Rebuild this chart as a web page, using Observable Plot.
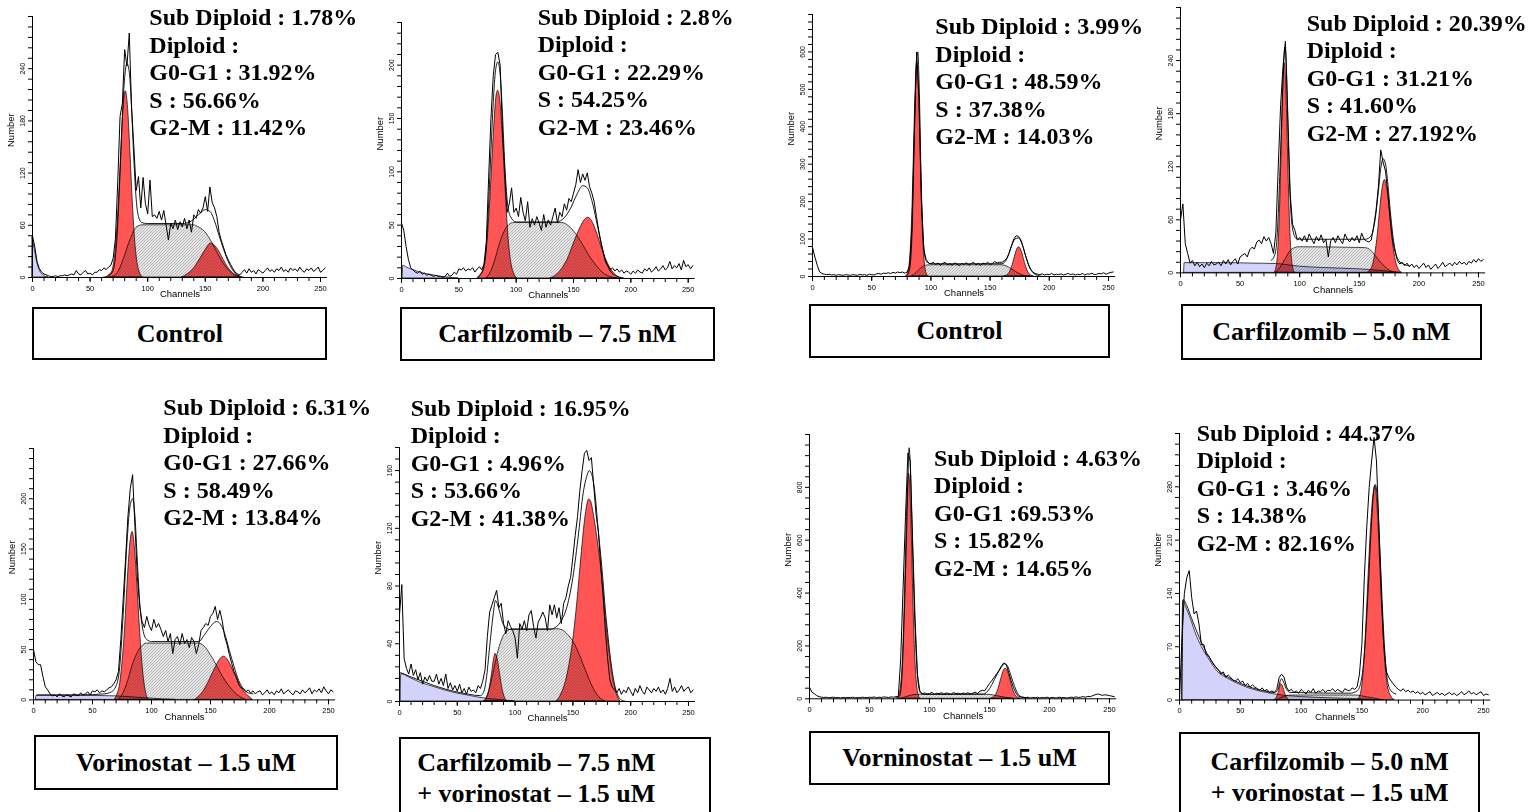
<!DOCTYPE html>
<html>
<head>
<meta charset="utf-8">
<script src="https://cdn.jsdelivr.net/npm/d3@7"></script>
<script src="https://cdn.jsdelivr.net/npm/@observablehq/plot@0.6"></script>
<style>
html,body{margin:0;padding:0;background:#fff;}
body{position:relative;width:1533px;height:812px;overflow:hidden;}
.panel{position:absolute;}
.panel svg{display:block;overflow:visible;}
.stats{position:absolute;font-family:"Liberation Serif","Times New Roman",serif;font-weight:bold;font-size:24px;line-height:27.5px;white-space:nowrap;color:#000;z-index:2;}
.box{position:absolute;box-sizing:border-box;border:2.5px solid #000;background:#fff;font-family:"Liberation Serif","Times New Roman",serif;font-weight:bold;font-size:26px;color:#000;white-space:nowrap;display:flex;align-items:center;justify-content:center;z-index:2;}
.box.multi{display:block;line-height:31px;}
</style>
</head>
<body>
<svg width="0" height="0" style="position:absolute;left:0;top:0">
<defs>
<pattern id="shatch" patternUnits="userSpaceOnUse" width="3" height="3">
<rect width="3" height="3" fill="#e4e4e4"/>
<path d="M-1,1 l2,-2 M0,3 l3,-3 M2,4 l2,-2" stroke="#9c9c9c" stroke-width="0.6"/>
</pattern>
</defs>
</svg>
<script>
// ---------- DATA (histogram counts every 2 channels: 0,2,...,254) ----------
// Panel 1: Control (top-left)
const p1Hist = [
 48,35,18,10,6,4,3,2,1,1,2,1,2,2,3,2,
 3,4,3,8,4,3,6,8,4,5,3,6,6,9,8,11,
 9,12,14,22,45,110,185,200,262,243,281,195,150,100,116,80,
 115,85,73,112,70,72,68,76,66,77,60,43,62,56,66,55,
 64,58,68,56,66,52,72,68,78,74,80,93,76,104,86,80,
 70,52,42,34,26,20,15,10,6,4,3,6,9,5,10,6,
 8,4,9,7,5,8,11,7,9,6,10,8,12,7,9,6,
 11,8,10,7,12,8,6,10,8,11,7,9,12,6,8,11];
const p1Fit = [[60,0],[66,2],[70,8],[73,40],[76,120],[78,185],[80,230],[82,246],[84,236],[86,195],[88,135],[90,90],[92,70],[95,63],[100,62],[130,62],[138,65],[144,72],[150,78],[154,76],[158,65],[162,48],[166,32],[170,18],[174,8],[178,3],[184,0]];
const p1Debris = [[0,46],[2,32],[4,18],[6,9],[8,4],[10,2],[12,0.5],[14,0]];
const p1S = [[68,0],[74,5],[79,20],[85,43],[91,58],[96,60],[140,60],[144,58],[150,52],[156,40],[160,30],[164,20],[168,12],[172,6],[176,2],[180,0]];
const p1G1 = [[65,0],[66,2],[69,6],[71,18],[73,44],[75,88],[77,144],[79,194],[81,214],[83,194],[85,144],[87,88],[89,44],[91,18],[93,6],[96,0]];
const p1G2 = [[130,0],[135,4],[140,10],[145,20],[150,31],[155,39],[158,37],[162,30],[166,20],[170,11],[174,5],[178,2],[181,0]];
const p1YTicks = [0,60,120,180,240];
const p1Stats = ["Sub Diploid : 1.78%","Diploid :","G0-G1 : 31.92%","S : 56.66%","G2-M : 11.42%"];
const p1Label = ["Control"];

// Panel 2: Carfilzomib 7.5 nM
const p2Hist = [
 52,45,30,18,10,8,6,5,7,4,5,3,4,3,2,3,
 2,2,1,2,5,2,3,6,4,9,8,10,7,9,8,10,
 6,9,11,8,14,35,95,150,190,210,212,200,140,100,62,70,
 85,62,66,58,76,62,54,72,48,56,50,58,52,45,60,48,
 55,50,58,66,52,62,58,70,64,75,72,80,88,102,90,98,
 92,99,86,80,72,58,45,34,24,15,12,8,10,7,9,6,
 8,5,7,6,4,7,5,8,6,5,9,7,10,6,8,11,
 7,9,12,8,10,16,9,12,10,14,8,17,11,13,9,12];
const p2Fit = [[66,1],[70,5],[73,18],[76,70],[78,120],[80,165],[82,195],[84,203],[86,192],[88,155],[90,108],[92,75],[95,58],[100,53],[135,53],[142,57],[148,67],[153,79],[158,87],[162,85],[166,73],[170,54],[174,33],[178,17],[182,7],[188,2],[194,0]];
const p2Debris = [[1,0],[1.5,12],[5,10],[10,8],[15,6],[20,4.5],[25,3.5],[30,2.5],[35,1.5],[40,1],[45,0.3],[50,0]];
const p2S = [[74,0],[78,6],[82,18],[86,33],[90,44],[94,50],[98,52],[140,52],[146,49],[152,42],[158,32],[164,21],[170,12],[176,5],[182,1.5],[188,0]];
const p2G1 = [[67,0],[68,2],[71,7],[73,16],[75,35],[77,66],[79,105],[81,145],[83,172],[84.3,176],[86,168],[88,140],[90,100],[92,60],[94,30],[96,13],[98,5],[101,0]];
const p2G2 = [[130,0],[136,4],[140,9],[145,18],[150,32],[155,45],[160,55],[163,57],[166,54],[170,44],[174,31],[178,19],[182,10],[186,4],[190,1],[194,0]];
const p2YTicks = [0,50,100,150,200];
const p2Stats = ["Sub Diploid : 2.8%","Diploid :","G0-G1 : 22.29%","S : 54.25%","G2-M : 23.46%"];
const p2Label = ["Carfilzomib – 7.5 nM"];

// Panel 3: Control (top, right group)
const p3Hist = [
 78,52,30,12,8,6,5,6,4,5,3,5,4,3,5,4,
 3,5,4,3,6,4,5,3,6,5,4,7,8,6,9,8,
 10,8,11,9,12,10,12,9,12,28,130,390,600,470,200,72,
 45,36,34,38,32,36,30,35,38,31,34,30,36,33,29,35,
 32,37,30,34,38,31,35,30,36,33,38,32,35,40,36,38,
 38,42,48,62,82,100,109,107,98,78,55,34,20,12,8,6,
 5,7,4,6,5,8,4,6,5,7,4,6,8,5,7,4,
 6,5,8,4,7,6,9,5,6,8,7,10,6,9,11,12];
const p3Fit = [[80,4],[82,20],[84,110],[86,370],[88,585],[89,600],[90,520],[92,230],[94,80],[96,42],[100,34],[160,34],[164,46],[168,80],[171,100],[174,103],[177,86],[180,56],[183,28],[186,11],[190,3],[194,0]];
const p3Debris = [];
const p3S = [[84,0],[88,10],[92,22],[96,29],[100,30],[160,30],[164,27],[168,20],[172,12],[176,5],[180,1],[184,0]];
const p3G1 = [[79,0],[80.5,7],[81.5,20],[82.5,48],[83.5,103],[84.5,190],[85.5,307],[86.5,434],[87.5,532],[88.5,570],[89.5,532],[90.5,434],[91.5,307],[92.5,190],[93.5,103],[94.5,48],[95.5,20],[96.5,7],[98,0]];
const p3G2 = [[162,0],[164.5,3],[166.5,10],[168.5,25],[170.5,47],[172.5,69],[174.5,78],[176.5,69],[178.5,47],[180.5,25],[182.5,10],[184.5,3],[187,0]];
const p3YTicks = [0,100,200,300,400,500,600];
const p3Stats = ["Sub Diploid : 3.99%","Diploid :","G0-G1 : 48.59%","S : 37.38%","G2-M : 14.03%"];
const p3Label = ["Control"];

// Panel 4: Carfilzomib 5.0 nM
const p4Hist = [
 60,78,33,22,11,14,8,12,7,10,6,11,8,13,9,10,
 12,8,14,10,15,9,13,16,10,18,20,22,18,26,29,27,
 35,37,33,41,36,40,33,22,45,120,190,233,262,180,90,55,
 48,37,40,36,42,35,44,38,33,41,36,43,34,38,18,36,
 40,34,42,37,33,44,38,35,40,36,42,34,45,38,36,35,
 37,52,70,97,139,125,115,90,60,36,24,14,10,12,8,11,
 7,10,6,9,5,8,11,6,9,4,7,10,5,8,12,7,
 9,11,8,12,9,13,10,12,9,13,11,15,12,16,13,15];
const p4Fit = [[76,14],[79,20],[81,40],[83,100],[85,180],[86.5,235],[87.5,255],[88.5,245],[90,170],[92,85],[94,50],[97,39],[100,38],[155,38],[160,42],[163,58],[166,92],[168,118],[170,129],[172,123],[174,100],[176,70],[178,44],[180,26],[183,14],[187,10],[192,8]];
const p4Debris = [[3,0],[3.5,11],[20,11],[40,11],[60,10.5],[80,10],[100,7],[120,5.5],[150,4],[170,2],[180,0.5],[185,0]];
const p4S = [[80,0],[84,6],[88,15],[92,24],[96,28],[100,29],[155,28],[158,27],[162,22],[166,15],[170,9],[174,4],[178,1],[182,0]];
const p4G1 = [[79,0],[80,3],[81.5,16],[82.5,37],[83.5,72],[84.5,121],[85.5,175],[86.5,220],[87.5,237],[88.5,220],[89.5,175],[90.5,121],[91.5,72],[92.5,37],[93.5,16],[95,3],[96,0]];
const p4G2 = [[157,0],[159.5,3],[161.5,9],[163.5,22],[165.5,43],[167.5,71],[169.5,95],[171.5,105],[173.5,95],[175.5,71],[177.5,43],[179.5,22],[181.5,9],[183.5,3],[186,0]];
const p4YTicks = [0,60,120,180,240];
const p4Stats = ["Sub Diploid : 20.39%","Diploid :","G0-G1 : 31.21%","S : 41.60%","G2-M : 27.192%"];
const p4Label = ["Carfilzomib – 5.0 nM"];

// Panel 5: Vorinostat 1.5 uM (bottom-left)
const p5Hist = [
 50,38,35,35,23,13,10,6,4,5,3,6,4,3,5,4,
 3,6,5,4,7,5,6,8,5,9,8,10,7,9,8,10,
 12,13,16,20,28,60,100,140,182,210,224,172,123,93,78,72,
 83,74,69,80,72,76,70,63,69,58,66,46,60,63,55,66,
 56,60,52,62,58,46,55,69,72,76,74,83,86,93,80,89,
 78,63,55,45,36,28,23,15,12,11,8,10,7,9,6,8,
 9,5,7,10,6,8,5,9,7,11,6,8,10,7,5,9,
 8,6,10,7,9,12,6,10,8,11,7,13,9,6,10,8];
const p5Fit = [[3,5],[40,5],[60,6],[66,8],[70,14],[73,32],[76,85],[79,152],[82,194],[84,200],[86,182],[88,138],[90,97],[93,68],[96,60],[100,58],[140,58],[145,65],[150,73],[155,78],[158,76],[162,66],[166,49],[170,33],[174,19],[178,11],[182,7],[186,6]];
const p5Debris = [[2,0],[2.5,4],[40,4],[70,3.5],[90,2],[110,0.5],[120,0]];
const p5S = [[72,0],[76,6],[80,18],[84,34],[88,46],[92,53],[96,56],[140,56],[145,53],[150,45],[155,35],[160,24],[165,15],[170,8],[175,3],[180,0]];
const p5G1 = [[69,0],[71,5],[73,13],[75,32],[77,60],[79,100],[81,140],[83,164],[84,167],[86,150],[88,115],[90,75],[92,40],[94,17],[96,4],[98,0]];
const p5G2 = [[137,0],[141,4],[145,10],[149,19],[153,29],[157,38],[161,43],[164,41],[167,35],[170,27],[174,17],[178,9],[182,4],[186,0]];
const p5YTicks = [0,50,100,150,200];
const p5Stats = ["Sub Diploid : 6.31%","Diploid :","G0-G1 : 27.66%","S : 58.49%","G2-M : 13.84%"];
const p5Label = ["Vorinostat – 1.5 uM"];

// Panel 6: Carfilzomib 7.5 nM + vorinostat 1.5 uM
const p6Hist = [
 60,81,30,23,19,26,18,22,15,20,12,17,14,18,14,14,
 19,12,16,11,19,9,13,8,11,7,12,6,9,5,10,7,
 8,6,11,9,14,22,45,62,67,72,77,65,68,54,47,56,
 52,49,44,30,54,50,56,49,60,63,52,44,55,58,62,58,
 49,67,60,67,58,65,54,68,72,80,86,100,115,128,146,160,
 172,174,167,169,150,130,118,95,75,50,30,15,10,8,6,9,
 5,8,6,10,7,4,9,6,11,7,5,10,8,6,9,7,
 10,6,8,5,9,16,7,10,6,8,11,7,9,10,6,8];
const p6Fit = [[1,20],[10,17],[20,14],[30,11],[40,8.5],[50,6.5],[60,5],[70,4],[73,7],[75,15],[78,38],[81,60],[83,70],[86,64],[89,55],[92,51],[95,50],[130,50],[136,52],[140,56],[145,66],[150,86],[155,117],[159,145],[162,156],[164,160],[166,158],[169,145],[172,118],[174,102],[176,84],[178,64],[180,48],[182,33],[184,21],[186,12],[188,6],[192,1],[196,0]];
const p6Debris = [[1,0],[1.5,19],[10,16],[20,12.5],[30,10],[40,7.5],[50,5.5],[60,4],[70,2.5],[80,1.5],[90,0.8],[100,0]];
const p6S = [[74,0],[78,8],[82,22],[86,36],[90,45],[94,49],[98,50],[138,50],[142,49],[146,46],[150,42],[154,36],[158,28],[162,20],[166,12],[170,6],[174,2],[178,0]];
const p6G1 = [[73,0],[76,3],[78,9],[80,19],[82,30],[83,33],[85,29],[87,19],[89,9],[91,3],[93,0]];
const p6G2 = [[136,0],[140,5],[144,14],[148,30],[151,47],[154,70],[157,97],[160,122],[162,134],[164,140],[166,138],[168,130],[170,120],[172,108],[174,96],[176,80],[178,62],[180,46],[182,32],[184,20],[186,11],[188,5],[191,0]];
const p6YTicks = [0,40,80,120,160];
const p6Stats = ["Sub Diploid : 16.95%","Diploid :","G0-G1 : 4.96%","S : 53.66%","G2-M : 41.38%"];
const p6Label = ["Carfilzomib – 7.5 nM","+ vorinostat – 1.5 uM"];

// Panel 7: Vorinostat 1.5 uM (bottom, right group)
const p7Hist = [
 44,25,19,12,8,6,5,6,4,5,6,4,5,3,5,4,
 5,4,6,3,5,4,6,5,4,6,5,7,4,6,5,7,
 6,5,7,6,8,8,150,420,690,930,900,590,300,90,28,20,
 22,18,20,24,17,21,19,23,18,22,20,17,24,19,21,18,
 22,19,23,18,21,25,20,28,32,30,44,58,69,82,95,108,
 125,136,128,100,69,42,22,10,6,5,4,6,3,5,4,6,
 3,5,4,6,3,5,4,3,6,4,5,3,4,6,5,7,
 5,6,8,6,9,8,12,15,18,16,13,15,14,12,10,8];
const p7Fit = [[72,5],[75,10],[77,80],[79,320],[81,640],[82,820],[83,950],[84,880],[85,720],[87,400],[89,160],[91,45],[93,20],[96,17],[145,18],[150,38],[154,72],[158,106],[161,126],[163,133],[165,124],[168,86],[171,46],[174,17],[177,7],[182,4]];
const p7Debris = [];
const p7S = [[76,0],[80,5],[85,12],[90,15],[150,15],[155,11],[160,7],[165,3],[170,0]];
const p7G1 = [[74,0],[75,14],[76,37],[77,86],[78,173],[79,307],[80,480],[81,660],[82,800],[83,852],[84,800],[85,660],[86,480],[87,307],[88,173],[89,86],[90,37],[91,14],[92,0]];
const p7G2 = [[151,0],[153.5,5],[155.5,15],[157.5,37],[159.5,70],[161.5,101],[163.5,114],[165.5,101],[167.5,70],[169.5,37],[171.5,15],[173.5,5],[176,0]];
const p7YTicks = [0,200,400,600,800];
const p7Stats = ["Sub Diploid : 4.63%","Diploid :","G0-G1 :69.53%","S : 15.82%","G2-M : 14.65%"];
const p7Label = ["Vorninostat – 1.5 uM"];

// Panel 8: Carfilzomib 5.0 nM + vorinostat 1.5 uM
const p8Hist = [
 0,80,140,161,170,135,113,117,100,73,73,60,58,52,47,43,
 40,34,37,30,33,30,26,25,28,23,25,19,22,17,20,17,
 15,13,16,12,14,10,12,10,14,30,34,30,17,12,14,10,
 12,9,14,11,8,13,10,15,9,12,11,14,10,13,12,15,
 11,14,12,10,15,13,12,16,14,17,34,73,161,227,279,314,
 345,314,227,139,73,38,30,25,21,17,14,12,15,11,13,10,
 12,9,11,8,10,7,9,11,6,8,10,7,9,6,8,10,
 7,9,6,8,11,7,9,12,8,10,7,9,11,6,8,7];
const p8Fit = [[2,0],[3,132],[6,124],[10,107],[15,87],[20,69],[25,55],[31,41],[40,30],[50,22],[60,16],[70,12],[78,10],[81,14],[83,26],[84,28],[86,22],[88,14],[91,10],[140,9],[146,12],[149,22],[152,60],[155,140],[158,235],[160,278],[161,283],[163,258],[165,190],[167,118],[169,60],[171,26],[174,12],[178,8]];
const p8Debris = [[2,0],[3,130],[6,120],[9,108],[14,85],[20,65],[25,52],[31,38],[40,28],[50,20],[58,15],[70,10],[80,7],[100,4],[130,2],[150,1],[165,0]];
const p8S = [[80,0],[84,3],[88,5],[92,6],[145,6],[150,5],[155,3.5],[160,2],[165,0.5],[168,0]];
const p8G1 = [[78,0],[80,3],[82,12],[83.5,21],[85,18],[87,8],[89,2],[90,0]];
const p8G2 = [[147,0],[150,15],[152,50],[154,110],[156,180],[158,240],[160,275],[161,281],[163,250],[165,180],[167,110],[169,55],[171,22],[174,5],[177,0]];
const p8YTicks = [0,70,140,210,280];
const p8Stats = ["Sub Diploid : 44.37%","Diploid :","G0-G1 : 3.46%","S : 14.38%","G2-M : 82.16%"];
const p8Label = ["Carfilzomib – 5.0 nM","+ vorinostat – 1.5 uM"];

const xTicks = [0,50,100,150,200,250];

// ---------- PANELS ----------
const panels = [
  {hist:p1Hist, fit:p1Fit, debris:p1Debris, s:p1S, g1:p1G1, g2:p1G2, yMax:300,  yTicks:p1YTicks, yMinor:12, stats:p1Stats, label:p1Label},
  {hist:p2Hist, fit:p2Fit, debris:p2Debris, s:p2S, g1:p2G1, g2:p2G2, yMax:240,  yTicks:p2YTicks, yMinor:10, stats:p2Stats, label:p2Label},
  {hist:p3Hist, fit:p3Fit, debris:p3Debris, s:p3S, g1:p3G1, g2:p3G2, yMax:700,  yTicks:p3YTicks, yMinor:20, stats:p3Stats, label:p3Label},
  {hist:p4Hist, fit:p4Fit, debris:p4Debris, s:p4S, g1:p4G1, g2:p4G2, yMax:300,  yTicks:p4YTicks, yMinor:12, stats:p4Stats, label:p4Label},
  {hist:p5Hist, fit:p5Fit, debris:p5Debris, s:p5S, g1:p5G1, g2:p5G2, yMax:250,  yTicks:p5YTicks, yMinor:10, stats:p5Stats, label:p5Label},
  {hist:p6Hist, fit:p6Fit, debris:p6Debris, s:p6S, g1:p6G1, g2:p6G2, yMax:176,  yTicks:p6YTicks, yMinor:8,  stats:p6Stats, label:p6Label},
  {hist:p7Hist, fit:p7Fit, debris:p7Debris, s:p7S, g1:p7G1, g2:p7G2, yMax:1000, yTicks:p7YTicks, yMinor:40, stats:p7Stats, label:p7Label},
  {hist:p8Hist, fit:p8Fit, debris:p8Debris, s:p8S, g1:p8G1, g2:p8G2, yMax:350,  yTicks:p8YTicks, yMinor:14, stats:p8Stats, label:p8Label}
];

// layout (pixel geometry only)
const layout = [
  {x0:32,     w250:288,   base:277,   top:16,    annX:149.3,  annY:4.2,   box:[32.3,307.3,295,52.7]},
  {x0:401,    w250:286.7, base:277.7, top:21.7,  annX:537.7,  annY:3.6,   box:[400,307,315,54]},
  {x0:811.7,  w250:296,   base:276,   top:14,    annX:935.3,  annY:13.2,  box:[809,304,301,54]},
  {x0:1180.3, w250:298,   base:272.7, top:7.3,   annX:1306.7, annY:9.8,   box:[1181,304,301,56]},
  {x0:33.3,   w250:295,   base:699.7, top:448.3, annX:163.3,  annY:394.2, box:[34,735,304,55]},
  {x0:399.3,  w250:289,   base:700.7, top:446.7, annX:410.7,  annY:394.8, box:[399.3,736.7,311.4,90], align:"left", padTop:8.3, padLeft:16},
  {x0:809.3,  w250:300,   base:698.3, top:434,   annX:934,    annY:444.8, box:[809,731,301,54]},
  {x0:1179.3, w250:304,   base:699.3, top:432.7, annX:1196.7, annY:419.8, box:[1179.3,732.3,300.7,90], align:"center", padTop:11.4}
];

const toXY = arr => arr.map(([x, y]) => ({x, y}));
const RED = "#ff5555", BLUE = "#d2d2fb";

panels.forEach((p, i) => {
  const L = layout[i];
  const k = L.w250 / 250;
  const mL = 36, mR = 4, mT = 4, mB = 28;
  const fw = 256 * k, fh = L.base - L.top;
  const W = mL + fw + mR, H = mT + fh + mB;
  const hist = p.hist.map((v, j) => ({x: j * 2, y: v}));
  const yMinorTicks = d3.range(0, p.yMax + 1e-9, p.yMinor);
  const xMinorTicks = d3.range(0, 256, 10);
  const area = (fill, blend) => ({x: "x", y: "y", fill, stroke: "#000", strokeWidth: 0.7, curve: "monotone-x", mixBlendMode: blend});

  const svg = Plot.plot({
    width: W, height: H,
    marginLeft: mL, marginRight: mR, marginTop: mT, marginBottom: mB,
    x: {domain: [0, 256], axis: null},
    y: {domain: [0, p.yMax], axis: null},
    style: {fontFamily: "'Liberation Sans', Arial, sans-serif", background: "transparent", color: "#000", overflow: "visible"},
    marks: [
      Plot.areaY(toXY(p.debris), area(BLUE, "normal")),
      Plot.areaY(toXY(p.s), area("url(#shatch)", "multiply")),
      Plot.areaY(toXY(p.g1), area(RED, "multiply")),
      Plot.areaY(toXY(p.g2), area(RED, "multiply")),
      Plot.line(toXY(p.fit), {x: "x", y: "y", stroke: "#000", strokeWidth: 0.9, curve: "monotone-x"}),
      Plot.line(hist, {x: "x", y: "y", stroke: "#000", strokeWidth: 1}),
      Plot.ruleX([0], {stroke: "#000", strokeWidth: 1}),
      Plot.ruleY([0], {stroke: "#000", strokeWidth: 1}),
      Plot.axisY(yMinorTicks, {tickSize: 4, tickFormat: () => "", label: null, stroke: "#000"}),
      Plot.text(p.yTicks, {x: () => 0, y: d => d, text: d => String(d), rotate: -90, dx: -8, textAnchor: "middle", lineAnchor: "bottom", fontSize: 7, fill: "#000"}),
      Plot.axisX(xTicks, {tickSize: 5, tickPadding: 3, fontSize: 7.5, label: null, stroke: "#000", fill: "#000"}),
      Plot.axisX(xMinorTicks, {tickSize: 4, tickFormat: () => "", label: null, stroke: "#000"}),
      Plot.text(["Channels"], {frameAnchor: "bottom", dy: 20, fontSize: 9.5, fill: "#000"}),
      Plot.text(["Number"], {frameAnchor: "left", dx: -22, rotate: -90, fontSize: 9.5, fill: "#000"})
    ]
  });

  const wrap = document.createElement("div");
  wrap.className = "panel";
  wrap.style.left = (L.x0 - mL) + "px";
  wrap.style.top = (L.top - mT) + "px";
  wrap.style.width = W + "px";
  wrap.style.height = H + "px";
  wrap.appendChild(svg);
  document.body.appendChild(wrap);

  const st = document.createElement("div");
  st.className = "stats";
  st.style.left = L.annX + "px";
  st.style.top = L.annY + "px";
  p.stats.forEach(t => { const d = document.createElement("div"); d.textContent = t; st.appendChild(d); });
  document.body.appendChild(st);

  const b = document.createElement("div");
  b.className = "box" + (p.label.length > 1 ? " multi" : "");
  const [bx, by, bw, bh] = L.box;
  b.style.left = bx + "px"; b.style.top = by + "px";
  b.style.width = bw + "px"; b.style.height = bh + "px";
  if (p.label.length > 1) {
    b.style.textAlign = L.align;
    b.style.paddingTop = L.padTop + "px";
    if (L.padLeft) b.style.paddingLeft = L.padLeft + "px";
    p.label.forEach(t => { const d = document.createElement("div"); d.textContent = t; b.appendChild(d); });
  } else {
    b.textContent = p.label[0];
  }
  document.body.appendChild(b);
});
</script>
</body>
</html>
